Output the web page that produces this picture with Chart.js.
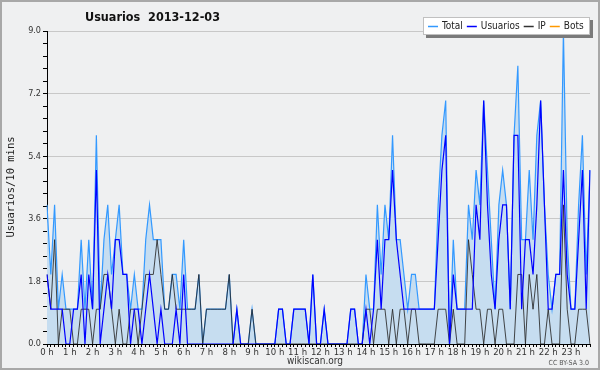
<!DOCTYPE html>
<html>
<head>
<meta charset="utf-8">
<script src="https://cdn.jsdelivr.net/npm/chart.js@4.4.0/dist/chart.umd.min.js"></script>
<style>
  body { margin: 0; background: #fff; }
</style>
</head>
<body>
<canvas id="myChartline" width="600" height="370"></canvas>
<script>
// hour labels, one per 6 points (10 min steps)
const horas = ['0 h','1 h','2 h','3 h','4 h','5 h','6 h','7 h','8 h','9 h','10 h','11 h',
               '12 h','13 h','14 h','15 h','16 h','17 h','18 h','19 h','20 h','21 h','22 h','23 h'];

const total = [
  4,2,4,1,2,1, 1,1,1,3,1,3, 1,6,1,3,4,2, 3,4,2,2,1,2,
  1,1,3,4,3,3, 3,1,1,2,2,1, 3,1,1,1,2,0, 1,1,1,1,1,1,
  2,0,1,0,0,0, 1,0,0,0,0,0, 0,1,1,0,0,1, 1,1,1,0,2,0,
  0,1,0,0,0,0, 0,0,1,1,0,0, 2,1,1,4,2,4, 3,6,3,3,2,1,
  2,2,1,1,1,1, 1,4,6,7,0,3, 1,1,1,4,3,5, 4,7,5,3,1,4,
  5,4,1,6,8,3, 3,5,3,6,7,4, 2,1,2,2,9,3, 1,1,4,6,2,5
];
const usuarios = [
  2,1,1,1,1,0, 0,1,1,2,0,2, 1,5,0,1,2,1, 3,3,2,2,0,1,
  1,0,1,2,1,0, 1,0,0,0,1,0, 2,0,0,0,0,0, 0,0,0,0,0,0,
  0,0,1,0,0,0, 0,0,0,0,0,0, 0,1,1,0,0,1, 1,1,1,0,2,0,
  0,1,0,0,0,0, 0,0,1,1,0,0, 1,0,1,3,1,3, 3,5,3,2,1,1,
  1,1,1,1,1,1, 1,3,5,6,0,2, 1,1,1,1,1,4, 3,7,4,2,1,3,
  4,4,1,6,6,1, 3,3,2,4,7,4, 1,1,2,2,5,2, 1,1,3,5,1,5
];
const ip = [
  2,1,3,0,1,1, 1,0,0,1,1,1, 0,1,1,2,2,1, 0,1,0,0,1,1,
  0,1,2,2,2,3, 2,1,1,2,1,1, 1,1,1,1,2,0, 1,1,1,1,1,1,
  2,0,0,0,0,0, 1,0,0,0,0,0, 0,0,0,0,0,0, 0,0,0,0,0,0,
  0,0,0,0,0,0, 0,0,0,0,0,0, 1,1,0,1,1,1, 0,1,0,1,1,0,
  1,1,0,0,0,0, 0,1,1,1,0,1, 0,0,0,3,2,1, 1,0,1,1,0,1,
  1,0,0,0,2,2, 0,2,1,2,0,0, 1,0,0,0,4,1, 0,0,1,1,1,0
];
const bots = [];

// y axis: labelled ticks and the small marks in between
const yLabels = [0, 1.8, 3.6, 5.4, 7.2, 9.0];
const yMinor = 5;

const fnt = '"DejaVu Sans Condensed", "DejaVu Sans", sans-serif';

// one category per 10 minutes
const labels = [];
horas.forEach(h => { for (let k = 0; k < 6; k++) labels.push(h + ':' + k + '0'); });

const fondo = {
  id: 'fondo',
  beforeDraw(chart) {
    const c = chart.ctx;
    c.save();
    c.fillStyle = '#eff0f1';
    c.fillRect(0, 0, chart.width, chart.height);
    c.strokeStyle = '#a8a8a8';
    c.lineWidth = 2;
    c.strokeRect(1, 1, chart.width - 2, chart.height - 2);
    c.restore();
  }
};

const textos = {
  id: 'textos',
  afterDraw(chart) {
    const c = chart.ctx;
    c.save();
    // title
    c.fillStyle = '#111';
    c.font = 'bold 12.5px ' + fnt;
    c.textBaseline = 'middle';
    c.textAlign = 'left';
    c.fillText('Usuarios  2013-12-03', 85, 18);

    // y axis title
    c.save();
    c.translate(11, 187);
    c.rotate(-Math.PI / 2);
    c.textAlign = 'center';
    c.font = '10.5px "DejaVu Sans Mono", monospace';
    c.fillStyle = '#222';
    c.fillText('Usuarios/10 mins', 0, 0);
    c.restore();

    // footer
    c.textAlign = 'center';
    c.font = '10px ' + fnt;
    c.fillStyle = '#333';
    c.fillText('wikiscan.org', 315, 361);
    c.textAlign = 'right';
    c.font = '7px ' + fnt;
    c.fillStyle = '#555';
    c.fillText('CC BY-SA 3.0', 589, 363);

    // legend box
    c.fillStyle = '#7a7a7a';
    c.fillRect(426, 20, 167, 18);
    c.fillStyle = '#fff';
    c.fillRect(423, 17, 167, 18);
    c.strokeStyle = '#c0c0c0';
    c.lineWidth = 1;
    c.strokeRect(423.5, 17.5, 166, 17);
    c.font = '10px ' + fnt;
    c.textAlign = 'left';
    let x = 428;
    chart.data.datasets.forEach(ds => {
      c.strokeStyle = ds.legendColor;
      c.lineWidth = 1.5;
      c.beginPath();
      c.moveTo(x, 26.5);
      c.lineTo(x + 10, 26.5);
      c.stroke();
      c.fillStyle = '#222';
      c.fillText(ds.label, x + 14, 26.5);
      x += 14 + c.measureText(ds.label).width + 4;
    });
    c.restore();
  }
};

let line = document.getElementById('myChartline').getContext('2d');
let myLineChart = new Chart(line, {
  type: 'line',
  data: {
    labels: labels,
    datasets: [{
      label: 'Total',
      data: total,
      borderColor: '#3399ff',
      legendColor: '#3399ff',
      backgroundColor: '#c6ddf0',
      fill: 'origin',
      borderWidth: 1.2,
      order: 3
    }, {
      label: 'Usuarios',
      data: usuarios,
      borderColor: '#0000ff',
      legendColor: '#0000ff',
      fill: false,
      borderWidth: 1.2,
      order: 1
    }, {
      label: 'IP',
      data: ip,
      borderColor: 'rgba(40,40,40,0.85)',
      legendColor: '#333',
      fill: false,
      borderWidth: 1,
      order: 2
    }, {
      label: 'Bots',
      data: bots,
      borderColor: '#ff9900',
      legendColor: '#ff9900',
      fill: false,
      borderWidth: 1,
      order: 4
    }]
  },
  options: {
    responsive: false,
    animation: false,
    devicePixelRatio: 1,
    layout: { padding: { top: 31, right: 10, bottom: 0, left: 0 } },
    elements: { point: { radius: 0 }, line: { tension: 0 } },
    plugins: { legend: { display: false }, tooltip: { enabled: false } },
    scales: {
      x: {
        type: 'category',
        offset: false,
        afterFit(s) { s.height = 26; },
        border: { color: '#000', width: 1 },
        grid: { drawOnChartArea: false, tickLength: 3, tickColor: '#000' },
        ticks: {
          autoSkip: false,
          maxRotation: 0,
          padding: 0,
          color: '#333',
          font: { family: fnt, size: 9.5 },
          callback: (v, i) => i % 6 === 0 ? horas[i / 6] : ''
        }
      },
      y: {
        min: 0,
        max: 9,
        afterFit(s) { s.width = 47; },
        afterBuildTicks(s) {
          const t = [];
          for (let j = 0; j < yLabels.length - 1; j++) {
            const step = (yLabels[j + 1] - yLabels[j]) / yMinor;
            for (let k = 0; k < yMinor; k++) t.push({ value: yLabels[j] + k * step, major: k === 0 });
          }
          t.push({ value: yLabels[yLabels.length - 1], major: true });
          s.ticks = t;
        },
        border: { color: '#000', width: 1 },
        grid: {
          color: ctx => ctx.tick && ctx.tick.major ? '#c8c8c8' : 'rgba(0,0,0,0)',
          tickColor: '#000',
          tickLength: 4
        },
        ticks: {
          autoSkip: false,
          padding: 2,
          color: '#333',
          font: { family: fnt, size: 9 },
          callback: function (v, i, ts) { return ts[i].major ? v.toFixed(1) : ''; }
        }
      }
    }
  },
  plugins: [fondo, textos]
});
</script>
</body>
</html>
